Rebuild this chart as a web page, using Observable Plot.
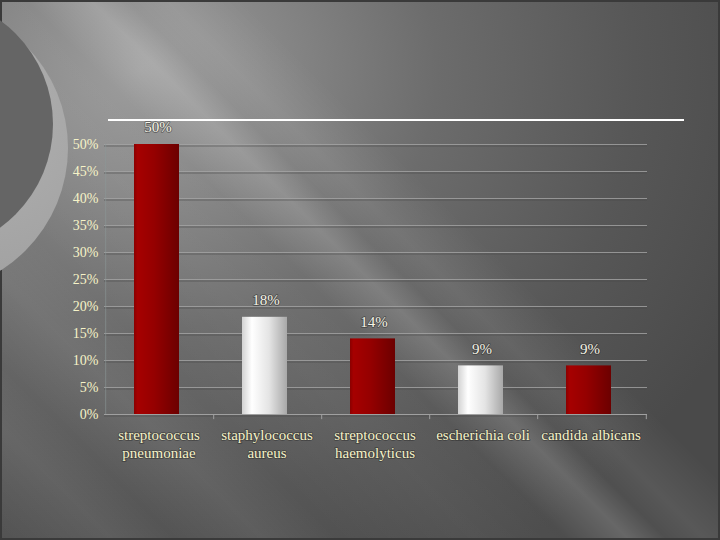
<!DOCTYPE html>
<html>
<head>
<meta charset="utf-8">
<script src="https://cdn.jsdelivr.net/npm/d3@7"></script>
<script src="https://cdn.jsdelivr.net/npm/@observablehq/plot@0.6"></script>
<style>
  html, body { margin: 0; padding: 0; background: #4a4a4a; }
  #slide {
    position: relative; width: 720px; height: 540px; overflow: hidden;
    background:
      linear-gradient(45deg,
        rgba(255,255,255,0) 0%, rgba(255,255,255,0.06) 9%, rgba(255,255,255,0) 14%,
        rgba(255,255,255,0.06) 21%, rgba(255,255,255,0) 27%,
        rgba(255,255,255,0.04) 38%, rgba(255,255,255,0.02) 45%,
        rgba(255,255,255,0.16) 50%, rgba(255,255,255,0.03) 53%,
        rgba(255,255,255,0.08) 56%, rgba(255,255,255,0) 62%, rgba(255,255,255,0) 100%),
      radial-gradient(ellipse 660px 580px at 140px 70px, #9c9c9c 0%, #8a8a8a 18%, #6c6c6c 45%, #575757 75%, #4a4a4a 100%);
    box-shadow: inset 0 0 0 2px #3a3a3a;
  }
  .ring { position: absolute; border-radius: 50%; }
  #ring1 { left: -222px; top: 3px; width: 290px; height: 290px;
           background: radial-gradient(circle at 70% 40%, #b0b0b0 0%, #a2a2a2 60%, #9a9a9a 100%); }
  #ring2 { left: -203px; top: -4px; width: 256px; height: 256px; background: #656565; }
  #rule { position: absolute; left: 108px; top: 119px; width: 576px; height: 2px; background: #ffffff; }
  #chart { position: absolute; left: 0; top: 0; }
</style>
</head>
<body>
<div id="slide">
  <div class="ring" id="ring1"></div>
  <div class="ring" id="ring2"></div>
  <div id="rule"></div>
  <div id="chart"></div>
</div>
<script>
const categories = [
  "streptococcus\npneumoniae",
  "staphylococcus\naureus",
  "streptococcus\nhaemolyticus",
  "escherichia coli",
  "candida albicans"
];
const values = [0.50, 0.18, 0.14, 0.09, 0.09];
const valueLabels = ["50%", "18%", "14%", "9%", "9%"];
const yTicks = [0, 0.05, 0.10, 0.15, 0.20, 0.25, 0.30, 0.35, 0.40, 0.45, 0.50];

const data = categories.map((c, i) => ({category: c, value: values[i], label: valueLabels[i], index: i}));

const W = 720, H = 540, mL = 104, mR = 73, mT = 144, mB = 126;
const step = (W - mL - mR) / categories.length;
const font = "Liberation Serif";
const cream = "#f6f3c8";
const halo = {stroke: "rgba(35,35,35,0.5)", strokeWidth: 1.6, paintOrder: "stroke"};

const chart = Plot.plot({
  width: W, height: H,
  marginLeft: mL, marginRight: mR, marginTop: mT, marginBottom: mB,
  style: {background: "transparent", fontFamily: font, fontSize: "15px", overflow: "visible"},
  x: {domain: categories, paddingInner: 0.585, paddingOuter: 0.2925, axis: null},
  y: {domain: [0, 0.5], axis: null},
  marks: [
    Plot.gridY(yTicks, {stroke: "#4a4a4a", strokeOpacity: 0.6, strokeWidth: 1, dy: 1.5}),
    Plot.gridY(yTicks, {stroke: "#a4a4a4", strokeOpacity: 0.8, strokeWidth: 1}),
    Plot.ruleX([categories[0]], {x: d => d, dx: -step / 2, y1: 0, y2: 0.5, stroke: "#8c9a9a", strokeOpacity: 0.6}),
    Plot.ruleY([0], {stroke: "#a0a0a0", strokeWidth: 1.2}),
    Plot.ruleX(categories.slice(1), {x: d => d, dx: -step / 2, y1: 0, y2: -0.0095, stroke: "#a0a0a0"}),
    Plot.ruleX(categories.slice(-1), {x: d => d, dx: step / 2, y1: 0, y2: -0.0095, stroke: "#a0a0a0"}),
    Plot.barY(data, {filter: d => d.index % 2 === 0, x: "category", y: "value", dx: -3, fill: "url(#redGrad)"}),
    Plot.barY(data, {filter: d => d.index % 2 === 1, x: "category", y: "value", dx: -3, fill: "url(#whiteGrad)"}),
    Plot.text(data, {x: "category", y: "value", text: "label", dx: -2, dy: -17, fill: "#f6f4e6", fontSize: 15, fontFamily: font, ...halo}),
    Plot.axisY(yTicks, {tickSize: 0, tickPadding: 6, tickFormat: d => Math.round(d * 100) + "%", fill: cream, fontSize: 14, fontFamily: font, label: null, ...halo}),
    Plot.text(data, {x: "category", y: 0, text: "category", dx: -1, dy: 13, lineAnchor: "top", lineHeight: 1.2, fill: cream, fontSize: 15, fontFamily: font, ...halo})
  ]
});

const ns = "http://www.w3.org/2000/svg";
const defs = document.createElementNS(ns, "defs");
defs.innerHTML = `
  <linearGradient id="redGrad" x1="0" y1="0" x2="1" y2="0">
    <stop offset="0" stop-color="#8a0000"/>
    <stop offset="0.08" stop-color="#a60000"/>
    <stop offset="0.45" stop-color="#950000"/>
    <stop offset="1" stop-color="#6c0000"/>
  </linearGradient>
  <linearGradient id="whiteGrad" x1="0" y1="0" x2="1" y2="0">
    <stop offset="0" stop-color="#d2d2d2"/>
    <stop offset="0.22" stop-color="#ffffff"/>
    <stop offset="0.6" stop-color="#e4e4e4"/>
    <stop offset="1" stop-color="#a8a8a8"/>
  </linearGradient>`;
chart.insertBefore(defs, chart.firstChild);
document.getElementById("chart").appendChild(chart);
</script>
</body>
</html>
